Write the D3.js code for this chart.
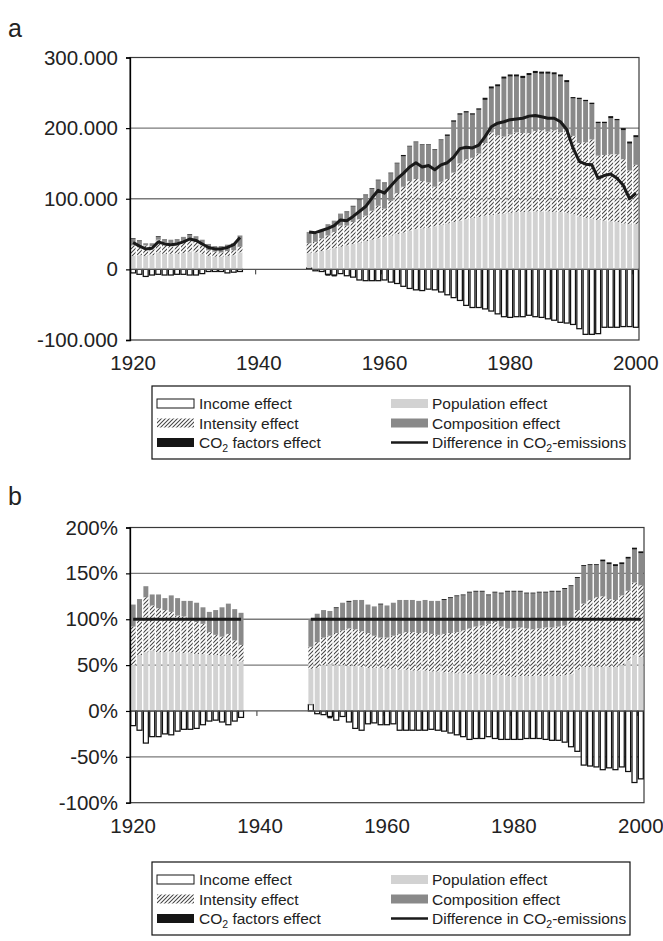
<!DOCTYPE html>
<html><head><meta charset="utf-8">
<script src="https://cdn.jsdelivr.net/npm/d3@7"></script>
<style>html,body{margin:0;padding:0;background:#fff}svg{display:block;font-family:"Liberation Sans",Arial,sans-serif}</style>
</head><body><svg id="c" width="663" height="941"></svg>
<script>
// ---------- DATA ----------
const allYears = d3.range(1920, 2001); // category axis
const dataYears = [1920,1921,1922,1923,1924,1925,1926,1927,1928,1929,1930,1931,1932,1933,1934,1935,1936,1937,
  1948,1949,1950,1951,1952,1953,1954,1955,1956,1957,1958,1959,1960,1961,1962,1963,1964,1965,1966,1967,1968,1969,
  1970,1971,1972,1973,1974,1975,1976,1977,1978,1979,1980,1981,1982,1983,1984,1985,1986,1987,1988,1989,
  1990,1991,1992,1993,1994,1995,1996,1997,1998,1999,2000];
const xLabelYears = [1920, 1940, 1960, 1980, 2000];

// Panel a (thousands)
const incomeA = [-5,-7,-10,-8,-7,-8,-8,-7,-7,-8,-8,-6,-3,-3,-3,-5,-4,-3,
  2,-2,-3,-7,-8,-6,-9,-11,-15,-16,-16,-16,-15,-18,-20,-24,-27,-29,-30,-28,-29,-32,-36,-40,-44,-51,-54,-54,-56,-59,-63,-67,-68,-67,-67,-65,-67,-68,-70,-72,-75,-76,-78,-84,-92,-92,-91,-82,-82,-82,-81,-81,-82];
const populationA = [19,20,19,20,24,22,22,22,23,25,24,22,19,18,18,19,20,24,
  21,24,26,28,30,32,34,36,38,40,42,44,46,48,50,52,55,57,58,59,61,63,65,67,69,71,73,74,76,77,78,79,80,81,81,82,82,82,82,81,81,80,78,75,73,72,70,69,68,67,65,64,64];
const intensityA = [15,12,15,13,18,16,15,15,16,18,16,12,8,7,6,7,7,8,
  14,15,18,20,23,30,28,31,33,36,41,46,40,49,58,65,70,71,67,64,56,61,63,70,81,85,85,90,103,117,112,109,111,113,112,111,114,115,113,116,113,116,111,104,107,112,91,93,95,96,91,76,84];
const compositionA = [9,8,3,4,4,5,5,6,7,6,7,8,9,8,9,9,10,16,
  16,11,12,16,16,17,19,22,27,29,31,36,36,39,42,43,49,52,51,53,52,59,61,72,69,66,61,62,61,62,69,82,82,79,78,82,82,80,82,79,79,69,53,62,58,50,46,45,51,48,41,38,39];
const co2A = [1,1,0,0,1,0,0,0,0,1,0,0,0,0,0,0,0,0,
  0,0,0,-2,-2,0,1,1,1,1,1,1,1,1,1,2,1,1,1,1,1,1,2,2,2,2,2,2,3,3,3,3,3,3,3,3,3,3,3,3,3,3,2,2,2,2,2,2,3,2,3,3,3];
const differenceA = [38,33,29,30,39,36,35,36,39,43,41,36,31,29,29,31,35,45,
  53,52,55,58,62,70,69,75,82,89,101,112,108,118,128,136,145,151,145,147,141,148,151,159,171,173,172,176,188,202,207,209,212,213,214,217,218,216,214,214,209,198,172,153,149,148,129,133,135,129,119,100,108];
const yTicksA = [-100, 0, 100, 200, 300];
const yTickLabelsA = ["-100.000", "0", "100.000", "200.000", "300.000"];

// Panel b (percent of difference)
const incomeB = [-16,-21,-35,-28,-28,-25,-26,-22,-20,-20,-19,-15,-11,-10,-12,-15,-11,-7,
  7,-3,-4,-6,-10,-6,-12,-19,-21,-14,-13,-15,-15,-14,-21,-21,-21,-21,-21,-20,-21,-22,-24,-26,-28,-31,-30,-30,-28,-30,-31,-31,-31,-31,-30,-30,-30,-31,-32,-32,-34,-39,-44,-59,-60,-61,-64,-62,-64,-61,-66,-78,-74];
const populationB = [50,61,64,66,64,64,64,64,63,63,62,62,61,61,60,61,57,54,
  39,47,50,51,50,50,49,49,48,47,47,47,46,46,45,45,44,44,44,43,43,42,42,41,41,40,41,40,40,39,39,38,37,38,38,38,38,38,38,38,39,40,45,48,48,48,48,48,48,50,55,61,59];
const intensityB = [42,38,60,49,48,46,44,40,40,38,35,33,25,22,21,23,20,18,
  24,28,30,31,35,38,41,40,39,38,35,33,34,36,39,41,42,41,42,41,40,42,43,45,47,50,51,53,55,58,53,52,53,53,52,51,52,53,53,54,54,59,65,69,73,76,77,74,73,76,76,79,78];
const compositionB = [24,23,12,12,15,13,18,19,17,19,21,18,22,27,32,33,34,35,
  30,31,30,27,27,30,29,32,34,31,32,36,35,36,37,35,35,35,35,36,37,37,38,39,38,39,38,37,31,32,36,40,40,39,38,39,39,38,39,38,40,37,35,41,38,35,38,38,37,34,35,36,35];
const co2B = [0,0,0,0,0,0,0,0,0,0,0,0,0,0,0,0,0,0,
  0,0,0,-2,1,0,1,0,0,0,0,1,0,0,0,0,0,0,0,0,0,1,1,1,1,1,1,1,1,1,1,1,1,1,1,1,1,1,1,1,1,1,1,1,1,1,2,2,2,2,2,2,2];
const differenceB = dataYears.map(() => 100);
const yTicksB = [-100, -50, 0, 50, 100, 150, 200];
const yTickLabelsB = ["-100%", "-50%", "0%", "50%", "100%", "150%", "200%"];

const seriesKeys = ["income", "population", "intensity", "composition", "co2"];

// ---------- DRAW ----------
const svg = d3.select("#c");
const defs = svg.append("defs");
const pat = defs.append("pattern").attr("id", "hatch").attr("patternUnits", "userSpaceOnUse")
  .attr("width", 4).attr("height", 4);
pat.append("rect").attr("width", 4).attr("height", 4).attr("fill", "#fff");
pat.append("path").attr("d", "M-1,1 l2,-2 M0,4 l4,-4 M3,5 l2,-2")
  .attr("stroke", "#444").attr("stroke-width", 1.05);

const fills = {income: "#ffffff", population: "#d2d2d2", intensity: "url(#hatch)", composition: "#898989", co2: "#151515"};
const FONT = 20.5;

function drawChart(o) {
  const g = svg.append("g");
  const x = d3.scaleBand().domain(allYears).range([o.x0, o.x1]).paddingInner(0.22).paddingOuter(0.11);
  const y = d3.scaleLinear().domain(o.yDomain).range([o.y1, o.y0]);

  // gridlines
  g.append("g").selectAll("line").data(o.grid).join("line")
    .attr("x1", o.x0).attr("x2", o.x1).attr("y1", d => y(d)).attr("y2", d => y(d))
    .attr("stroke", "#7a7a7a").attr("stroke-width", 1.3);
  // border
  g.append("rect").attr("x", o.x0).attr("y", o.y0).attr("width", o.x1 - o.x0).attr("height", o.y1 - o.y0)
    .attr("fill", "none").attr("stroke", "#3a3a3a").attr("stroke-width", 1.2);

  // category tick marks (between categories)
  g.append("g").selectAll("line").data([1940, 1960, 1980, 2000]).join("line")
    .attr("x1", d => x(d) + x.bandwidth() / 2 - x.step() / 2)
    .attr("x2", d => x(d) + x.bandwidth() / 2 - x.step() / 2)
    .attr("y1", y(0)).attr("y2", y(0) + 5).attr("stroke", "#333").attr("stroke-width", 1);

  // stacked bars
  const rows = dataYears.map((yr, i) => ({year: yr, income: o.income[i], population: o.population[i],
    intensity: o.intensity[i], composition: o.composition[i], co2: o.co2[i]}));
  const stacked = d3.stack().keys(seriesKeys).offset(d3.stackOffsetDiverging)(rows);
  stacked.forEach(s => {
    g.append("g").selectAll("rect").data(s.filter(d => d[1] !== d[0])).join("rect")
      .attr("x", d => x(d.data.year)).attr("width", x.bandwidth())
      .attr("y", d => y(Math.max(d[0], d[1])))
      .attr("height", d => Math.abs(y(d[0]) - y(d[1])))
      .attr("fill", fills[s.key])
      .attr("stroke", s.key === "income" ? "#111" : "none")
      .attr("stroke-width", s.key === "income" ? 1.25 : 0);
  });

  // zero line
  g.append("line").attr("x1", o.x0).attr("x2", o.x1).attr("y1", y(0)).attr("y2", y(0))
    .attr("stroke", "#555").attr("stroke-width", 1.2);

  // difference line
  const idx = new Map(dataYears.map((yr, i) => [yr, i]));
  const lineData = allYears.map(yr => ({year: yr, v: idx.has(yr) ? o.difference[idx.get(yr)] : null}));
  g.append("path").datum(lineData)
    .attr("d", d3.line().defined(d => d.v !== null).x(d => x(d.year) + x.bandwidth() / 2).y(d => y(d.v)))
    .attr("fill", "none").attr("stroke", "#1a1a1a").attr("stroke-width", o.lineWidth)
    .attr("stroke-linejoin", "round");

  // y axis
  const ax = g.append("g").attr("transform", `translate(${o.x0},0)`)
    .call(d3.axisLeft(y).tickValues(o.yTicks).tickFormat((d, i) => o.yTickLabels[i]).tickSize(4).tickPadding(8));
  ax.select(".domain").attr("stroke", "#000").attr("stroke-width", 1.3);
  ax.selectAll(".tick line").attr("stroke", "#000").attr("stroke-width", 1.2);
  ax.selectAll(".tick text").attr("font-size", FONT).attr("fill", "#222")
    .attr("font-family", "'Liberation Sans', Arial, sans-serif");

  // x labels
  g.append("g").selectAll("text").data(xLabelYears).join("text")
    .attr("x", d => x(d) + x.bandwidth() / 2).attr("y", o.y1 + 30)
    .attr("text-anchor", "middle").attr("font-size", FONT).attr("fill", "#222").text(d => d);

  // panel letter
  svg.append("text").attr("x", 8).attr("y", o.letterY).attr("font-size", 25).attr("fill", "#222").text(o.letter);
}

function drawLegend(top) {
  const g = svg.append("g");
  const bx0 = 152, bx1 = 630, h = 73;
  g.append("rect").attr("x", bx0).attr("y", top).attr("width", bx1 - bx0).attr("height", h)
    .attr("fill", "#fff").attr("stroke", "#111").attr("stroke-width", 1.2);
  const items = [
    {key: "income", label: "Income effect", col: 0, row: 0},
    {key: "population", label: "Population effect", col: 1, row: 0},
    {key: "intensity", label: "Intensity effect", col: 0, row: 1},
    {key: "composition", label: "Composition effect", col: 1, row: 1},
    {key: "co2", label: ["CO", "2", " factors effect"], col: 0, row: 2},
    {key: "line", label: ["Difference in CO", "2", "-emissions"], col: 1, row: 2}
  ];
  const symX = [157, 391], txtX = [199, 432];
  items.forEach(it => {
    const cy = top + 17.5 + it.row * 19.5;
    if (it.key === "line") {
      g.append("line").attr("x1", symX[it.col]).attr("x2", symX[it.col] + 37).attr("y1", cy).attr("y2", cy)
        .attr("stroke", "#1a1a1a").attr("stroke-width", 2.5);
    } else {
      g.append("rect").attr("x", symX[it.col]).attr("y", cy - 4.5).attr("width", 37).attr("height", 9)
        .attr("fill", fills[it.key]).attr("stroke", it.key === "income" ? "#161616" : "none").attr("stroke-width", 1);
    }
    const t = g.append("text").attr("x", txtX[it.col]).attr("y", cy + 5.5).attr("font-size", 15.5).attr("fill", "#222");
    if (Array.isArray(it.label)) {
      t.append("tspan").text(it.label[0]);
      t.append("tspan").attr("font-size", 10.5).attr("dy", 4).text(it.label[1]);
      t.append("tspan").attr("dy", -4).text(it.label[2]);
    } else t.text(it.label);
  });
}

drawChart({letter: "a", letterY: 37, x0: 130, x1: 639, y0: 57.5, y1: 340, yDomain: [-100, 300],
  grid: [100, 200], yTicks: yTicksA, yTickLabels: yTickLabelsA, lineWidth: 3,
  income: incomeA, population: populationA, intensity: intensityA, composition: compositionA, co2: co2A, difference: differenceA});
drawLegend(386);
drawChart({letter: "b", letterY: 505, x0: 130, x1: 644, y0: 527.5, y1: 802.7, yDomain: [-100, 200],
  grid: [-50, 50, 100, 150], yTicks: yTicksB, yTickLabels: yTickLabelsB, lineWidth: 3.2,
  income: incomeB, population: populationB, intensity: intensityB, composition: compositionB, co2: co2B, difference: differenceB});
drawLegend(862);
</script></body></html>
